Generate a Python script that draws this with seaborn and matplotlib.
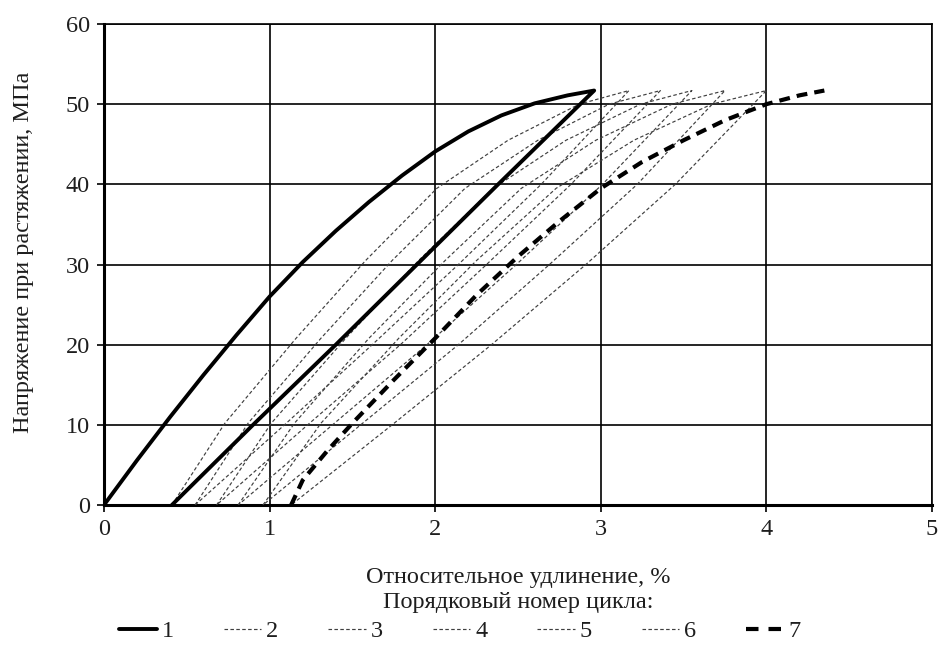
import matplotlib
matplotlib.use("Agg")
import matplotlib.pyplot as plt
from matplotlib.lines import Line2D
import seaborn as sns
import pandas as pd

# ---- data ----
cycles = ["1", "2", "3", "4", "5", "6", "7"]

# loading branches (strain %, stress MPa)
load1_x = [0.0, 0.2, 0.4, 0.6, 0.8, 1.0, 1.2, 1.4, 1.6, 1.8, 2.0, 2.2, 2.4, 2.6, 2.8, 2.96]
load1_y = [0.0, 5.6, 11.0, 16.2, 21.2, 26.0, 30.3, 34.2, 37.8, 41.1, 44.1, 46.6, 48.6, 50.1, 51.1, 51.7]

load2_x = [0.41, 0.73, 1.16, 1.58, 2.01, 2.44, 2.87, 3.17]
load3_x = [0.55, 0.87, 1.31, 1.74, 2.18, 2.62, 3.05, 3.36]
load4_x = [0.68, 1.01, 1.46, 1.90, 2.35, 2.79, 3.24, 3.55]
load5_x = [0.81, 1.15, 1.60, 2.06, 2.52, 2.97, 3.43, 3.75]
load6_x = [0.96, 1.31, 1.78, 2.25, 2.73, 3.20, 3.67, 4.00]
load_mid_y = [0.0, 10.2, 20.8, 30.5, 39.5, 45.5, 50.0, 51.7]

load7_x = [1.13, 1.20, 1.35, 1.50, 1.75, 2.00, 2.25, 2.50, 2.75, 3.00, 3.25, 3.50, 3.75, 4.00, 4.20, 4.35]
load7_y = [0.0, 3.1, 6.8, 10.2, 15.6, 20.8, 26.2, 31.0, 35.4, 39.5, 42.8, 45.5, 48.0, 50.0, 51.1, 51.7]

# unloading branches (from peak down to zero stress)
unload_y = [51.7, 40.0, 30.0, 20.0, 10.0, 0.0]
unload1_x = [2.96, 2.38, 1.89, 1.40, 0.90, 0.41]
unload2_x = [3.17, 2.64, 2.14, 1.62, 1.09, 0.55]
unload3_x = [3.36, 2.82, 2.31, 1.79, 1.23, 0.68]
unload4_x = [3.55, 3.01, 2.49, 1.95, 1.38, 0.81]
unload5_x = [3.75, 3.22, 2.69, 2.14, 1.55, 0.96]
unload6_x = [4.00, 3.45, 2.91, 2.34, 1.74, 1.13]

x_ticks = [0, 1, 2, 3, 4, 5]
y_ticks = [0, 10, 20, 30, 40, 50, 60]

# ---- build long table ----
branches = {
    "1": [(load1_x, load1_y), (unload1_x, unload_y)],
    "2": [(load2_x, load_mid_y), (unload2_x, unload_y)],
    "3": [(load3_x, load_mid_y), (unload3_x, unload_y)],
    "4": [(load4_x, load_mid_y), (unload4_x, unload_y)],
    "5": [(load5_x, load_mid_y), (unload5_x, unload_y)],
    "6": [(load6_x, load_mid_y), (unload6_x, unload_y)],
    "7": [(load7_x, load7_y)],
}
rows = []
for c in cycles:
    k = 0
    for bx, by in branches[c]:
        for xv, yv in zip(bx, by):
            rows.append({"cycle": c, "order": k, "strain": xv, "stress": yv})
            k += 1
df = pd.DataFrame(rows)

sns.set_theme(style="white")
plt.rcParams["font.family"] = ["Liberation Serif", "DejaVu Serif"]

FS = 17.5
TXT = "#1e1e1e"

fig = plt.figure(figsize=(9.38, 6.59), dpi=100)
ax = fig.add_axes([104 / 938, 1 - 505 / 659, 828 / 938, 481 / 659])

thin = dict(color="#3f3f3f", linewidth=0.85, linestyle=(0, (3, 2)))
styles = {
    "1": dict(color="black", linewidth=2.8, linestyle="-"),
    "2": thin, "3": thin, "4": thin, "5": thin, "6": thin,
    "7": dict(color="black", linewidth=3.0, linestyle=(0, (2.6, 1.7))),
}

# draw thin first, thick on top
for c in ["2", "3", "4", "5", "6", "1", "7"]:
    sub = df[df["cycle"] == c]
    sns.lineplot(data=sub, x="strain", y="stress", sort=False, estimator=None,
                 ax=ax, legend=False, zorder=3, **styles[c])

ax.set_xlim(0, 5)
ax.set_ylim(0, 60)
ax.set_xticks(x_ticks)
ax.set_yticks(y_ticks)
ax.grid(True, color="black", linewidth=1.2)
ax.set_axisbelow(True)
for s in ["top", "right"]:
    ax.spines[s].set_color("black")
    ax.spines[s].set_linewidth(1.2)
for s in ["left", "bottom"]:
    ax.spines[s].set_color("black")
    ax.spines[s].set_linewidth(2.2)
ax.tick_params(axis="both", which="major", direction="out", length=5, width=1.2,
               color="black", labelsize=FS, labelcolor=TXT, bottom=True, left=True, pad=5)

ax.set_xlabel("Относительное удлинение, %\nПорядковый номер цикла:", fontsize=FS,
              color=TXT, linespacing=1.27)
ax.xaxis.set_label_coords(0.5, -0.128)
ax.set_ylabel("Напряжение при растяжении, МПа", fontsize=FS, color=TXT)
ax.yaxis.set_label_coords(-0.084, 0.526)

legend_styles = dict(styles)
legend_styles["7"] = dict(color="black", linewidth=3.0, linestyle=(0, (3.0, 2.4)))
handles = [Line2D([], [], **legend_styles[c]) for c in cycles]
fig.legend(handles, cycles, loc="center", bbox_to_anchor=(460 / 938, 1 - 631 / 659),
           ncol=7, frameon=False, fontsize=FS, handlelength=1.55, handletextpad=0.2,
           columnspacing=2.05, labelcolor=TXT)

fig.savefig("out.png", dpi=100)
